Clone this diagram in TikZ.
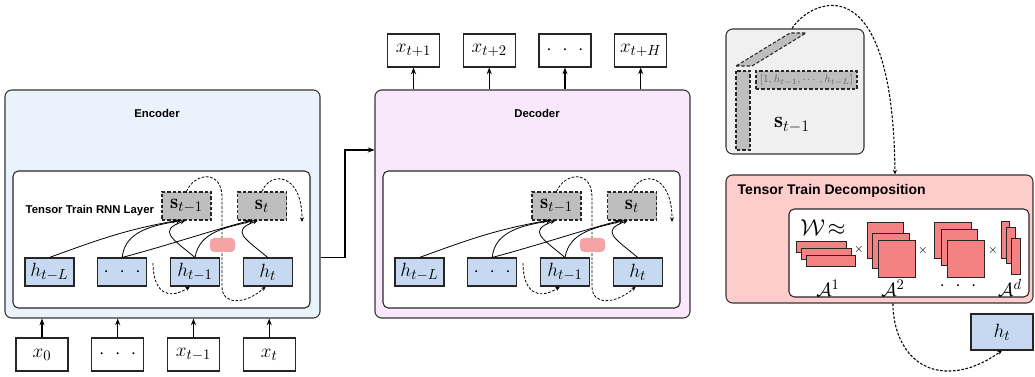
\documentclass[tikz,border=0pt]{standalone}
\usepackage{amsmath, amssymb}
\usepackage{fontspec}
\newfontfamily\headfont{Liberation Sans}
\usetikzlibrary{arrows.meta, positioning}
\definecolor{encblue}{HTML}{EAF3FC}
\definecolor{decpink}{HTML}{F9E8FC}
\definecolor{hblue}{HTML}{C6D9F0}
\definecolor{sgray}{HTML}{BEBEBE}
\definecolor{gatered}{HTML}{F5A3A3}
\definecolor{ttpink}{HTML}{FFCCCC}
\definecolor{corered}{HTML}{F48282}
\definecolor{sbig}{HTML}{F0F0F0}
\newcommand{\mfont}{\fontsize{15.5}{18}\selectfont}
\newcommand{\ttlayer}{%
  \node[layerbox] (box) at (161.5,137.5) {};
  \node[hnode] (hL) at (49.5,105) {$h_{t-L}$};
  \node[hnode, right=of hL] (hd) {$\cdot\ \cdot\ \cdot$};
  \node[hnode, right=of hd] (h1) {$h_{t-1}$};
  \node[hnode, right=of h1] (ht) {$h_t$};
  \node[snode] (s1) at (186.5,171) {$\mathbf{s}_{t-1}$};
  \node[snode] (st) at (262,171) {$\mathbf{s}_t$};
  \coordinate (stout) at (302,155);
  \coordinate (h1in) at (153,114);
  % history into the states
  \draw[wire] (hL.north) to[out=20,in=190] ([xshift=-6.75pt]s1.south);
  \draw[wire] (hd.north) to[out=85,in=190] ([xshift=-3.75pt]s1.south);
  \draw[wire] (hd.north) to[out=15,in=195] ([xshift=-9pt]st.south);
  \draw[wire] (h1.north) to[out=140,in=200,looseness=2] ([xshift=-0.75pt]s1.south);
  \draw[wire] (h1.north) to[out=80,in=195] ([xshift=-6pt]st.south);
  \draw[wire] (ht.north) to[out=140,in=200,looseness=2] ([xshift=-3pt]st.south);
  % recurrence
  \draw[recur] (s1.north) .. controls (195,205) and (222,207) .. (222,180)
    -- (222,90) .. controls (222,72) and (245,72) .. ([xshift=-1.5pt]ht.south);
  \draw[recur] (st.north) .. controls (270,206) and (302,205) .. (stout);
  \draw[recur] (h1in) .. controls (153,85) and (168,76) .. ([xshift=-3.75pt]h1.south);
  \node[gatebox] (gate) at (222.5,132) {};
}

\begin{document}
\begin{tikzpicture}[
    x=0.75pt, y=0.75pt,
    node distance=17pt,
    outerbox/.style={
        rectangle, rounded corners=5pt, draw=black!80, thick,
        minimum width=236.25pt, minimum height=171pt
    },
    layerbox/.style={
        rectangle, rounded corners=4pt, draw=black!85, thick, fill=white,
        minimum width=222.75pt, minimum height=102.75pt
    },
    boxtitle/.style={font=\headfont\bfseries\fontsize{8.5}{10}\selectfont},
    hnode/.style={
        rectangle, draw=black!85, thick, fill=hblue,
        minimum width=36.75pt, minimum height=21pt, inner sep=1pt, font=\mfont
    },
    snode/.style={
        rectangle, draw=black!85, thick, dash pattern=on 2.5pt off 1.5pt, fill=sgray,
        minimum width=36.75pt, minimum height=21pt, inner sep=1pt, font=\mfont
    },
    xnode/.style={
        rectangle, draw=black!85, thick, fill=white,
        minimum width=39pt, minimum height=24.75pt, inner sep=1pt, font=\mfont
    },
    gatebox/.style={
        rectangle, rounded corners=3pt, fill=gatered,
        minimum width=18.75pt, minimum height=10.5pt
    },
    band/.style={draw=black!85, thick, dash pattern=on 2.5pt off 1.5pt, fill=sgray},
    core/.style={draw=black!85, fill=corered},
    arrow/.style={-{Stealth[length=5pt]}, thick},
    wire/.style={-{Stealth[length=4pt, width=3pt]}, semithick},
    recur/.style={-{Stealth[length=3.5pt, width=3pt]}, semithick, dash pattern=on 2pt off 1.2pt}
]
\useasboundingbox (0,0) rectangle (1035,377);

% encoder and decoder
\node[outerbox, fill=encblue] (enc) at (162.5,173) {};
\node[outerbox, fill=decpink] (dec) at (532.5,173) {};
\node[boxtitle] (enctitle) at (157,264) {Encoder};
\node[boxtitle] (dectitle) at (537,264) {Decoder};

\begin{scope}[name prefix=enc-]
\ttlayer
\end{scope}
\node[boxtitle, anchor=west] (rnntitle) at (21,166) {Tensor Train RNN Layer};

\begin{scope}[shift={(370,0)}, name prefix=dec-]
\ttlayer
\end{scope}

% inputs
\node[xnode] (x0) at (42,22.5) {$x_0$};
\node[xnode, right=of x0] (xd) {$\cdot\ \cdot\ \cdot$};
\node[xnode, right=of xd] (x1) {$x_{t-1}$};
\node[xnode, right=of x1] (xt) {$x_t$};

% outputs
\node[xnode] (y1) at (413.5,326.5) {$x_{t+1}$};
\node[xnode, right=of y1] (y2) {$x_{t+2}$};
\node[xnode, right=of y2] (yd) {$\cdot\ \cdot\ \cdot$};
\node[xnode, right=of yd] (yH) {$x_{t+H}$};

\draw[arrow] (x0) -- (x0 |- enc.south);
\draw[arrow] (xd) -- (xd |- enc.south);
\draw[arrow] (x1) -- (x1 |- enc.south);
\draw[arrow] (xt) -- (xt |- enc.south);
\draw[arrow] (y1 |- dec.north) -- (y1);
\draw[arrow] (y2 |- dec.north) -- (y2);
\draw[arrow] (yd |- dec.north) -- (yd);
\draw[arrow] (yH |- dec.north) -- (yH);

\coordinate (bend) at (345,227);
\draw[arrow] (enc.east |- enc-ht.north) -| (bend) -- (bend -| dec.west);

% state matrix
\node[outerbox, fill=sbig, minimum width=103.5pt, minimum height=93.75pt] (S) at (795,285.5) {};
\draw[band] (736,311) -- (752,311) -- (806,344) -- (790,344) -- cycle;
\draw[band] (736,306) rectangle (750,227);
\node[band, minimum width=75.75pt, minimum height=13.5pt, inner sep=0pt,
      font=\fontsize{8}{10}\selectfont, text=black!60] (row) at (806.5,297)
      {$[1, h_{t-1}, \cdots, h_{t-L}]$};
\node[font=\fontsize{17}{20}\selectfont] (slabel) at (792,252) {$\mathbf{s}_{t-1}$};

% tensor train decomposition
\node[outerbox, fill=ttpink, minimum width=230.25pt, minimum height=96pt] (tt) at (879.5,138) {};
\node[boxtitle, anchor=west, font=\headfont\bfseries\fontsize{10.5}{12}\selectfont] (tttitle) at (733,186) {Tensor Train Decomposition};
\node[layerbox, minimum width=180pt, minimum height=66pt] (cores) at (909,124) {};

\draw[core] (796,136) rectangle (846,125);
\draw[core] (801,129) rectangle (851,118);
\draw[core] (806,122) rectangle (855,111);
\draw[core] (867,155) rectangle (903,119);
\draw[core] (872,144) rectangle (909,109);
\draw[core] (878,137) rectangle (915,100);
\draw[core] (934,155) rectangle (971,119);
\draw[core] (941,148) rectangle (977,112);
\draw[core] (947,137) rectangle (984,100);
\draw[core] (1001,156) rectangle (1009,119);
\draw[core] (1006,150) rectangle (1015,114);
\draw[core] (1011,139) rectangle (1020,103);

\node[font=\fontsize{17}{20}\selectfont] (W) at (823,149) {$\mathcal{W}\!\approx$};
\node[font=\small] (t1) at (859,127) {$\times$};
\node[font=\small] (t2) at (923,126) {$\times$};
\node[font=\small] (t3) at (993,126) {$\times$};
\node[font=\mfont] (A1) at (828,89) {$\mathcal{A}^1$};
\node[font=\mfont] (A2) at (893,89) {$\mathcal{A}^2$};
\node[font=\mfont] (Ad) at (958,91) {$\cdot\ \cdot\ \cdot$};
\node[font=\mfont] (AD) at (1010,89) {$\mathcal{A}^d$};

\node[hnode, minimum width=46.5pt, minimum height=27pt] (rht) at (1002,45) {$h_t$};

\draw[recur, thick] ([xshift=-2.25pt]S.north) .. controls (810,377) and (893,417) .. ([xshift=11.6pt]tt.north);
\draw[recur, thick] ([xshift=10.1pt]tt.south) .. controls (893,40) and (910,8) .. (945,6)
    .. controls (970,5) and (990,18) .. (rht.south);
\end{tikzpicture}
\end{document}
